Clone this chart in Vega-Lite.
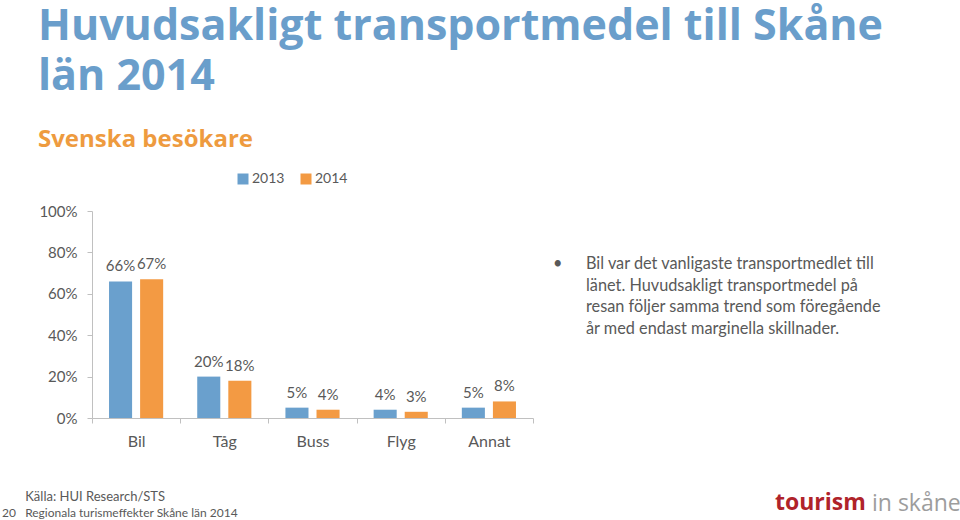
{
  "$schema": "https://vega.github.io/schema/vega-lite/v6.json",
  "background": "white",
  "padding": {"left": 2, "top": 6, "right": 6, "bottom": 0},
  "config": {"font": "Lato", "view": {"stroke": null}},
  "title": {
    "text": ["Huvudsakligt transportmedel till Skåne", "län 2014"],
    "subtitle": "Svenska besökare",
    "anchor": "start",
    "frame": "bounds",
    "dx": 36,
    "offset": 20,
    "font": "Open Sans",
    "fontSize": 43,
    "fontWeight": "bold",
    "color": "#6a9ecb",
    "lineHeight": 50,
    "subtitleFont": "Open Sans",
    "subtitleFontSize": 24,
    "subtitleFontWeight": "bold",
    "subtitleColor": "#ee9b3f",
    "subtitlePadding": 29
  },
  "bounds": "flush",
  "center": true,
  "spacing": 20,
  "hconcat": [
    {
      "width": 441,
      "height": 207,
      "title": {
        "text": "\u200b\u00a0\u00a0\u00a0\u00a0\u00a0\u00a0\u00a0Källa: HUI Research/STS",
        "subtitle": "20\u00a0\u00a0\u00a0Regionala turismeffekter Skåne län 2014",
        "orient": "bottom",
        "anchor": "start",
        "frame": "group",
        "dx": -90,
        "offset": 42,
        "font": "Lato",
        "fontSize": 13,
        "fontWeight": "normal",
        "color": "#595959",
        "subtitleFont": "Lato",
        "subtitleFontSize": 12,
        "subtitleColor": "#595959",
        "subtitlePadding": 4
      },
      "data": {
        "values": [
          {"medel": "Bil", "ar": "2013", "andel": 0.66},
          {"medel": "Bil", "ar": "2014", "andel": 0.67},
          {"medel": "Tåg", "ar": "2013", "andel": 0.20},
          {"medel": "Tåg", "ar": "2014", "andel": 0.18},
          {"medel": "Buss", "ar": "2013", "andel": 0.05},
          {"medel": "Buss", "ar": "2014", "andel": 0.04},
          {"medel": "Flyg", "ar": "2013", "andel": 0.04},
          {"medel": "Flyg", "ar": "2014", "andel": 0.03},
          {"medel": "Annat", "ar": "2013", "andel": 0.05},
          {"medel": "Annat", "ar": "2014", "andel": 0.08}
        ]
      },
      "encoding": {
        "x": {
          "field": "medel",
          "type": "nominal",
          "sort": ["Bil", "Tåg", "Buss", "Flyg", "Annat"],
          "scale": {"paddingInner": 0, "paddingOuter": 0},
          "axis": {
            "title": null,
            "labelAngle": 0,
            "labelFontSize": 16,
            "labelColor": "#595959",
            "domainColor": "#c0c0c0",
            "tickColor": "#c0c0c0",
            "tickSize": 5,
            "tickBand": "extent",
            "labelPadding": 10
          }
        },
        "xOffset": {
          "field": "ar",
          "type": "nominal",
          "scale": {"paddingInner": 0.258, "paddingOuter": 0.548}
        },
        "y": {
          "field": "andel",
          "type": "quantitative",
          "scale": {"domain": [0, 1]},
          "axis": {
            "values": [0, 0.2, 0.4, 0.6, 0.8, 1],
            "format": ".0%",
            "grid": false,
            "title": null,
            "domainColor": "#c0c0c0",
            "tickColor": "#c0c0c0",
            "tickSize": 5,
            "labelFontSize": 15,
            "labelColor": "#595959",
            "labelPadding": 10
          }
        },
        "color": {
          "field": "ar",
          "type": "nominal",
          "scale": {"range": ["#6aa0cd", "#f39a43"]},
          "legend": {
            "orient": "none",
            "legendX": 144,
            "legendY": -39,
            "direction": "horizontal",
            "title": null,
            "symbolType": "square",
            "symbolSize": 121,
            "symbolStrokeWidth": 0,
            "labelFontSize": 14,
            "labelColor": "#595959",
            "columnPadding": 14,
            "labelOffset": 2
          }
        }
      },
      "layer": [
        {"mark": {"type": "bar"}},
        {
          "mark": {"type": "text", "baseline": "alphabetic", "dy": -10, "fontSize": 15, "color": "#595959"},
          "encoding": {"text": {"field": "andel", "type": "quantitative", "format": ".0%"}, "color": {"value": "#595959"}}
        }
      ]
    },
    {
      "width": 33,
      "height": 91,
      "title": {
        "text": "tourism",
        "orient": "bottom",
        "anchor": "start",
        "frame": "group",
        "dx": 222,
        "offset": 132,
        "font": "Open Sans",
        "fontSize": 23,
        "fontWeight": "bold",
        "color": "#b0232a"
      },
      "data": {
        "values": [
          {"rad": 1, "kol": "punkt", "text": "•"},
          {"rad": 1, "kol": "text", "text": "Bil var det vanligaste transportmedlet till"},
          {"rad": 2, "kol": "text", "text": "länet. Huvudsakligt transportmedel på"},
          {"rad": 3, "kol": "text", "text": "resan följer samma trend som föregående"},
          {"rad": 4, "kol": "text", "text": "år med endast marginella skillnader."}
        ]
      },
      "mark": {"type": "text", "align": "left", "baseline": "alphabetic", "fontSize": 16.3, "color": "#595959"},
      "encoding": {
        "x": {"field": "kol", "type": "nominal", "sort": ["punkt", "text"], "scale": {"type": "point", "padding": 0}, "axis": null},
        "y": {"field": "rad", "type": "ordinal", "scale": {"type": "point", "padding": 0.6, "align": 0}, "axis": null},
        "text": {"field": "text"}
      }
    },
    {
      "width": 1,
      "height": 207,
      "title": {
        "text": "in skåne",
        "orient": "bottom",
        "anchor": "start",
        "frame": "group",
        "dx": 266,
        "offset": 75,
        "font": "Open Sans",
        "fontSize": 23,
        "fontWeight": "normal",
        "color": "#9d9d9d"
      },
      "data": {"values": []},
      "mark": {"type": "text"}
    }
  ]
}
